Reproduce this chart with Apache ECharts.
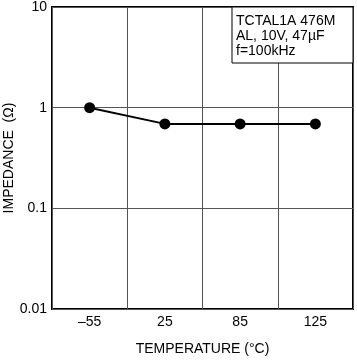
<!DOCTYPE html>
<html><head><meta charset="utf-8">
<script src="https://cdn.jsdelivr.net/npm/echarts@6/dist/echarts.min.js"></script>
<style>html,body{margin:0;padding:0;background:#fff}#c{width:357px;height:360px}</style>
</head><body><div id="c"></div>
<script>
const categories = ['\u201355', '25', '85', '125'];
const impedance = [1.0, 0.69, 0.69, 0.69];
const yTickLabels = {'0.01':'0.01','0.1':'0.1','1':'1','10':'10'};
const legendLines = ['TCTAL1A 476M', 'AL, 10V, 47\u00b5F', 'f=100kHz'];

const chart = echarts.init(document.getElementById('c'), null, {renderer:'canvas'});
const font = 'Liberation Sans, Arial, sans-serif';
chart.setOption({
  animation:false,
  grid:{left:52,right:4,top:7,bottom:51,containLabel:false,outerBoundsMode:'none',
    show:true,borderColor:'#000',borderWidth:2,backgroundColor:'transparent'},
  xAxis:{type:'category',data:categories,boundaryGap:true,
    axisLine:{show:false},axisTick:{show:false},
    axisLabel:{color:'#000',fontFamily:font,fontSize:14,margin:6},
    splitLine:{show:true,lineStyle:{color:'#555',width:1}},
    name:'TEMPERATURE (\u00b0C)',nameLocation:'middle',nameGap:33,
    nameTextStyle:{color:'#000',fontFamily:font,fontSize:14}},
  yAxis:{type:'log',logBase:10,min:0.01,max:10,
    axisLine:{show:false},axisTick:{show:false},
    axisLabel:{color:'#000',fontFamily:font,fontSize:14,margin:5,
      formatter:v=>{const k=String(+v.toPrecision(3));return yTickLabels[k]!==undefined?yTickLabels[k]:k;}},
    splitLine:{show:true,lineStyle:{color:'#555',width:1}},
    name:'IMPEDANCE  (\u03a9)',nameLocation:'middle',nameGap:36,nameRotate:90,nameMoveOverlap:false,
    nameTextStyle:{color:'#000',fontFamily:font,fontSize:14}},
  series:[{type:'line',data:impedance,symbol:'circle',symbolSize:11,
    lineStyle:{color:'#000',width:2},itemStyle:{color:'#000'}}],
  graphic:[
    {type:'rect',shape:{x:232,y:7,width:121,height:56},style:{fill:'#fff',stroke:'#000',lineWidth:1},z:100},
    {type:'text',x:236,y:14,z:101,style:{text:legendLines.join('\n'),font:'14px '+font,fill:'#000',lineHeight:15}}
  ]
});
</script></body></html>
